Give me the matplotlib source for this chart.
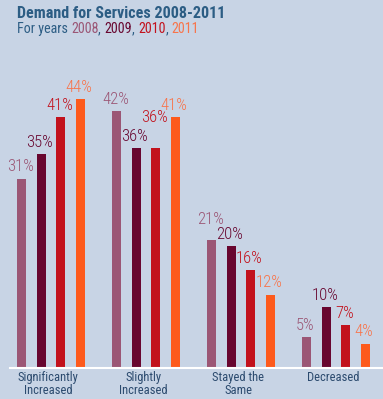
import matplotlib.pyplot as plt
import numpy as np

categories = ["Significantly\nIncreased", "Slightly\nIncreased", "Stayed the\nSame", "Decreased"]
years = ["2008", "2009", "2010", "2011"]
v2008 = [31, 42, 21, 5]
v2009 = [35, 36, 20, 10]
v2010 = [41, 36, 16, 7]
v2011 = [44, 41, 12, 4]

bar_colors = ["#9b5675", "#68062f", "#c2121d", "#fd5a1c"]
text_colors = ["#9b5675", "#68062f", "#c2121d", "#f8744a"]
bg = "#c8d4e5"
font = "Roboto Condensed"

# extra lift for a few labels that would collide (year index, category index)
lift = {(2, 1): 3.0, (0, 2): 1.3}

fig = plt.figure(figsize=(3.83, 3.99), dpi=100, facecolor=bg)
ax = fig.add_axes([0, 0.0777, 1, 0.7657])
ax.set_facecolor(bg)

x = np.arange(len(categories))
step = 0.205
width = 0.095
for i, vals in enumerate([v2008, v2009, v2010, v2011]):
    pos = x + (i - 1.5) * step
    ax.bar(pos, vals, width, color=bar_colors[i])
    for j, (p, v) in enumerate(zip(pos, vals)):
        ax.text(p - 0.015, v + 0.7 + lift.get((i, j), 0), f"{v}%", ha="center", va="bottom",
                color=text_colors[i], fontsize=12, fontweight="light", family=font)

ax.set_xlim(-0.537, 3.495)
ax.set_ylim(0, 50)
ax.axhline(0, xmin=0.025, xmax=1, color="white", lw=1.5, clip_on=False)
for s in ax.spines.values():
    s.set_visible(False)
ax.set_yticks([])
ax.set_xticks(x - 0.03)
ax.set_xticklabels(categories, fontsize=9, color="#2b4a6e", family=font, linespacing=1.05)
ax.tick_params(axis="x", length=0, pad=2)

fig.text(0.044, 0.967, "Demand for Services 2008-2011", fontsize=11.6, fontweight="bold",
         color="#2c5d84", family=font, va="center")

# subtitle with coloured years
t = fig.text(0.044, 0.927, "For years ", fontsize=10.1, color="#2c5d84", family=font, va="center")
parts = [("2008", text_colors[0]), (", ", "#2c5d84"), ("2009", text_colors[1]), (", ", "#2c5d84"),
         ("2010", text_colors[2]), (", ", "#2c5d84"), ("2011", text_colors[3])]
fig.canvas.draw()
r = fig.canvas.get_renderer()
xpos = t.get_window_extent(r).x1
for s, c in parts:
    tt = fig.text(xpos / fig.bbox.width, 0.927, s, fontsize=10.1, color=c, family=font, va="center")
    xpos = tt.get_window_extent(r).x1

fig.savefig("out.png", dpi=100, facecolor=bg)
